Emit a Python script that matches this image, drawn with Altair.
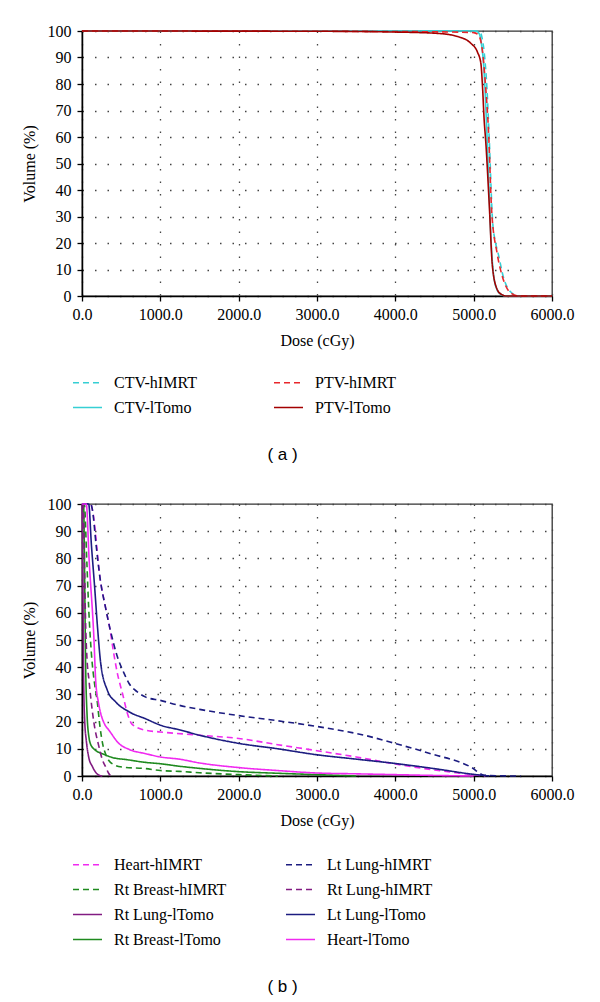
import altair as alt
import pandas as pd

# ---------------- Panel (a) data (legend order: column by column) ----------------
a_names = ["CTV-hIMRT", "CTV-lTomo", "PTV-hIMRT", "PTV-lTomo"]
a_colors = ["#36cfd4", "#36cfd4", "#e8262b", "#a30000"]
a_dashes = [[6, 4], [1, 0], [6, 4], [1, 0]]

ctv_h_dose = [0, 4000, 5000, 5080, 5110, 5134, 5170, 5198, 5240, 5280, 5313, 5381, 5474, 5581, 6000]
ctv_h_vol = [100, 100, 100, 99.6, 97, 92, 78, 60, 29, 20, 16, 7, 1.5, 0, 0]
ptv_h_dose = [0, 3000, 4500, 5000, 5060, 5110, 5150, 5190, 5230, 5300, 5370, 5460, 5570, 6000]
ptv_h_vol = [100, 99.9, 99.7, 99.4, 98.5, 93, 80, 62, 32, 16, 7, 1.5, 0, 0]
ctv_l_dose = [0, 4000, 5025, 5070, 5100, 5130, 5160, 5190, 5220, 5250, 5290, 5340, 5420, 6000]
ctv_l_vol = [100, 100, 100, 99, 95, 86, 68, 45, 22, 9, 3, 0.8, 0, 0]
ptv_l_dose = [0, 3000, 4000, 4543, 4796, 4966, 5049, 5092, 5113, 5134, 5155, 5198, 5240, 5300, 5350, 5420, 6000]
ptv_l_vol = [100, 99.9, 99.6, 99.1, 97.9, 95.3, 92, 87.8, 79, 66.4, 58, 35, 11, 2.5, 0.7, 0, 0]

a_doses = [ctv_h_dose, ctv_l_dose, ptv_h_dose, ptv_l_dose]
a_vols = [ctv_h_vol, ctv_l_vol, ptv_h_vol, ptv_l_vol]

# ---------------- Panel (b) data (legend order: column by column) ----------------
b_names = ["Heart-hIMRT", "Rt Breast-hIMRT", "Rt Lung-lTomo", "Rt Breast-lTomo",
           "Lt Lung-hIMRT", "Rt Lung-hIMRT", "Lt Lung-lTomo", "Heart-lTomo"]
b_colors = ["#f02af0", "#1f8a1f", "#821c82", "#1f8a1f",
            "#1c1c80", "#821c82", "#1c1c80", "#f02af0"]
b_dashes = [[6, 4], [6, 4], [1, 0], [1, 0], [6, 4], [6, 4], [1, 0], [1, 0]]

heart_h_dose = [0, 110, 132, 234, 300, 362, 400, 450, 520, 580, 640, 814, 1000, 1500, 2000, 2500, 3000, 3500, 4000, 4500, 5000, 5150]
heart_h_vol = [100, 100, 98, 72, 62, 53, 46, 38, 30, 23, 19, 16.8, 16.2, 15, 13.8, 11.5, 9.3, 7, 4.4, 2.2, 0.5, 0]
ltlung_h_dose = [0, 110, 132, 180, 234, 300, 362, 452, 533, 601, 703, 814, 1000, 1240, 1500, 2000, 2500, 3000, 3602, 4006, 4453, 4964, 5135, 5300, 5600]
ltlung_h_vol = [100, 100, 98, 85, 72, 62, 53.6, 43.8, 38, 34, 31, 29, 27.8, 26, 24.5, 22.2, 20.3, 18.2, 15, 11.9, 8.2, 3.3, 0.3, 0.1, 0]
rtbreast_h_dose = [0, 30, 60, 85, 120, 160, 192, 230, 270, 303, 340, 420, 515, 814, 1000, 1240, 1500, 2000, 2500]
rtbreast_h_vol = [100, 100, 80, 62, 45, 34, 28, 18, 11, 8, 5.8, 4, 3.3, 2.7, 2, 1.7, 1.2, 0.5, 0]
rtlung_h_dose = [0, 15, 30, 47, 64, 90, 111, 150, 217, 260, 303, 340, 367]
rtlung_h_vol = [100, 100, 80, 55, 43, 35, 29, 20, 10.7, 6, 3.3, 1, 0]
rtlung_l_dose = [0, 8, 14, 21, 35, 55, 85, 132, 180, 217, 260]
rtlung_l_vol = [100, 85, 60, 35, 20, 13, 7, 3.5, 1.2, 0.3, 0]
ltlung_l_dose = [0, 85, 120, 160, 200, 239, 324, 431, 601, 814, 1000, 1240, 1500, 2000, 2500, 3000, 3500, 4000, 4500, 5000, 5200]
ltlung_l_vol = [100, 100, 85, 70, 54, 41.4, 31.5, 27.2, 23.6, 21, 18.7, 17, 15, 12, 10, 7.8, 6.2, 4.6, 2.7, 0.6, 0]
rtbreast_l_dose = [0, 20, 35, 43, 64, 90, 107, 150, 277, 387, 575, 814, 1000, 1240, 1500, 2000, 2500, 3000, 3500]
rtbreast_l_vol = [100, 100, 70, 47.5, 23, 14, 11.9, 10, 8, 6.8, 6, 5, 4.5, 3.6, 2.8, 1.6, 1, 0.5, 0]
heart_l_dose = [0, 55, 90, 153, 175, 210, 239, 290, 345, 473, 600, 814, 1000, 1240, 1500, 2000, 2500, 3000, 3500, 4000, 4500, 5000]
heart_l_vol = [100, 100, 80, 50, 35, 27, 23, 19, 16.8, 11.9, 9.8, 8.2, 7, 6.2, 4.8, 3.1, 2, 1.1, 0.8, 0.5, 0.2, 0]

b_doses = [heart_h_dose, rtbreast_h_dose, rtlung_l_dose, rtbreast_l_dose,
           ltlung_h_dose, rtlung_h_dose, ltlung_l_dose, heart_l_dose]
b_vols = [heart_h_vol, rtbreast_h_vol, rtlung_l_vol, rtbreast_l_vol,
          ltlung_h_vol, rtlung_h_vol, ltlung_l_vol, heart_l_vol]

x_ticks = [0, 1000, 2000, 3000, 4000, 5000, 6000]
y_ticks = [0, 10, 20, 30, 40, 50, 60, 70, 80, 90, 100]


def make_df(names, doses, vols):
    rows = []
    for n, ds, vs in zip(names, doses, vols):
        for i, (d, v) in enumerate(zip(ds, vs)):
            rows.append({"series": n, "dose": d, "volume": v, "idx": i})
    return pd.DataFrame(rows)


SERIF = "Liberation Serif"


def panel(df, names, colors, dashes, label, height, col_pad, legend_y):
    leg = dict(title=None, orient="none", legendX=-10, legendY=legend_y,
               columns=2, columnPadding=col_pad, rowPadding=1,
               symbolType="stroke", symbolSize=841, symbolStrokeWidth=1.6,
               labelFont=SERIF, labelFontSize=16, labelColor="black",
               labelOffset=11, labelLimit=300)
    return alt.Chart(df).mark_line(strokeWidth=1.6, interpolate="monotone", clip=False).encode(
        x=alt.X("dose:Q", scale=alt.Scale(domain=[0, 6000], nice=False),
                axis=alt.Axis(values=x_ticks, format=".1f", title="Dose (cGy)",
                              labelFlush=False, labelPadding=5, titlePadding=10)),
        y=alt.Y("volume:Q", scale=alt.Scale(domain=[0, 100], nice=False),
                axis=alt.Axis(values=y_ticks, format="d", title="Volume (%)",
                              labelPadding=6, titlePadding=10)),
        color=alt.Color("series:N", scale=alt.Scale(domain=names, range=colors), legend=alt.Legend(**leg)),
        strokeDash=alt.StrokeDash("series:N", scale=alt.Scale(domain=names, range=dashes), legend=alt.Legend(**leg)),
        order="idx:Q",
    ).properties(
        width=470, height=height,
        title=alt.TitleParams(label, orient="bottom", anchor="middle", frame="bounds",
                              font="Liberation Sans", fontSize=17, fontWeight="normal",
                              color="black", offset=31, dx=-15),
    )


chart_a = panel(make_df(a_names, a_doses, a_vols), a_names, a_colors, a_dashes, "( a )", 265, 73, 336)
chart_b = panel(make_df(b_names, b_doses, b_vols), b_names, b_colors, b_dashes, "( b )", 272, 55, 345)

chart = alt.vconcat(chart_a, chart_b, spacing=31).resolve_scale(
    color="independent", strokeDash="independent"
).resolve_legend(color="independent", strokeDash="independent").properties(
    padding={"left": 12, "top": 14, "right": 5, "bottom": 5},
    background="white",
).configure_axis(
    domainColor="black", domainWidth=1.5, tickColor="black", tickSize=5, tickWidth=1.3,
    labelFont=SERIF, labelFontSize=16, labelColor="black",
    titleFont=SERIF, titleFontSize=16, titleFontWeight="normal", titleColor="black",
    gridColor="#444", gridDash=[1.5, 11], gridWidth=1.3, gridOpacity=1,
).configure_view(stroke="#333", strokeWidth=1.3)

chart.save("out.html", embed_options={"renderer": "svg", "actions": False})
